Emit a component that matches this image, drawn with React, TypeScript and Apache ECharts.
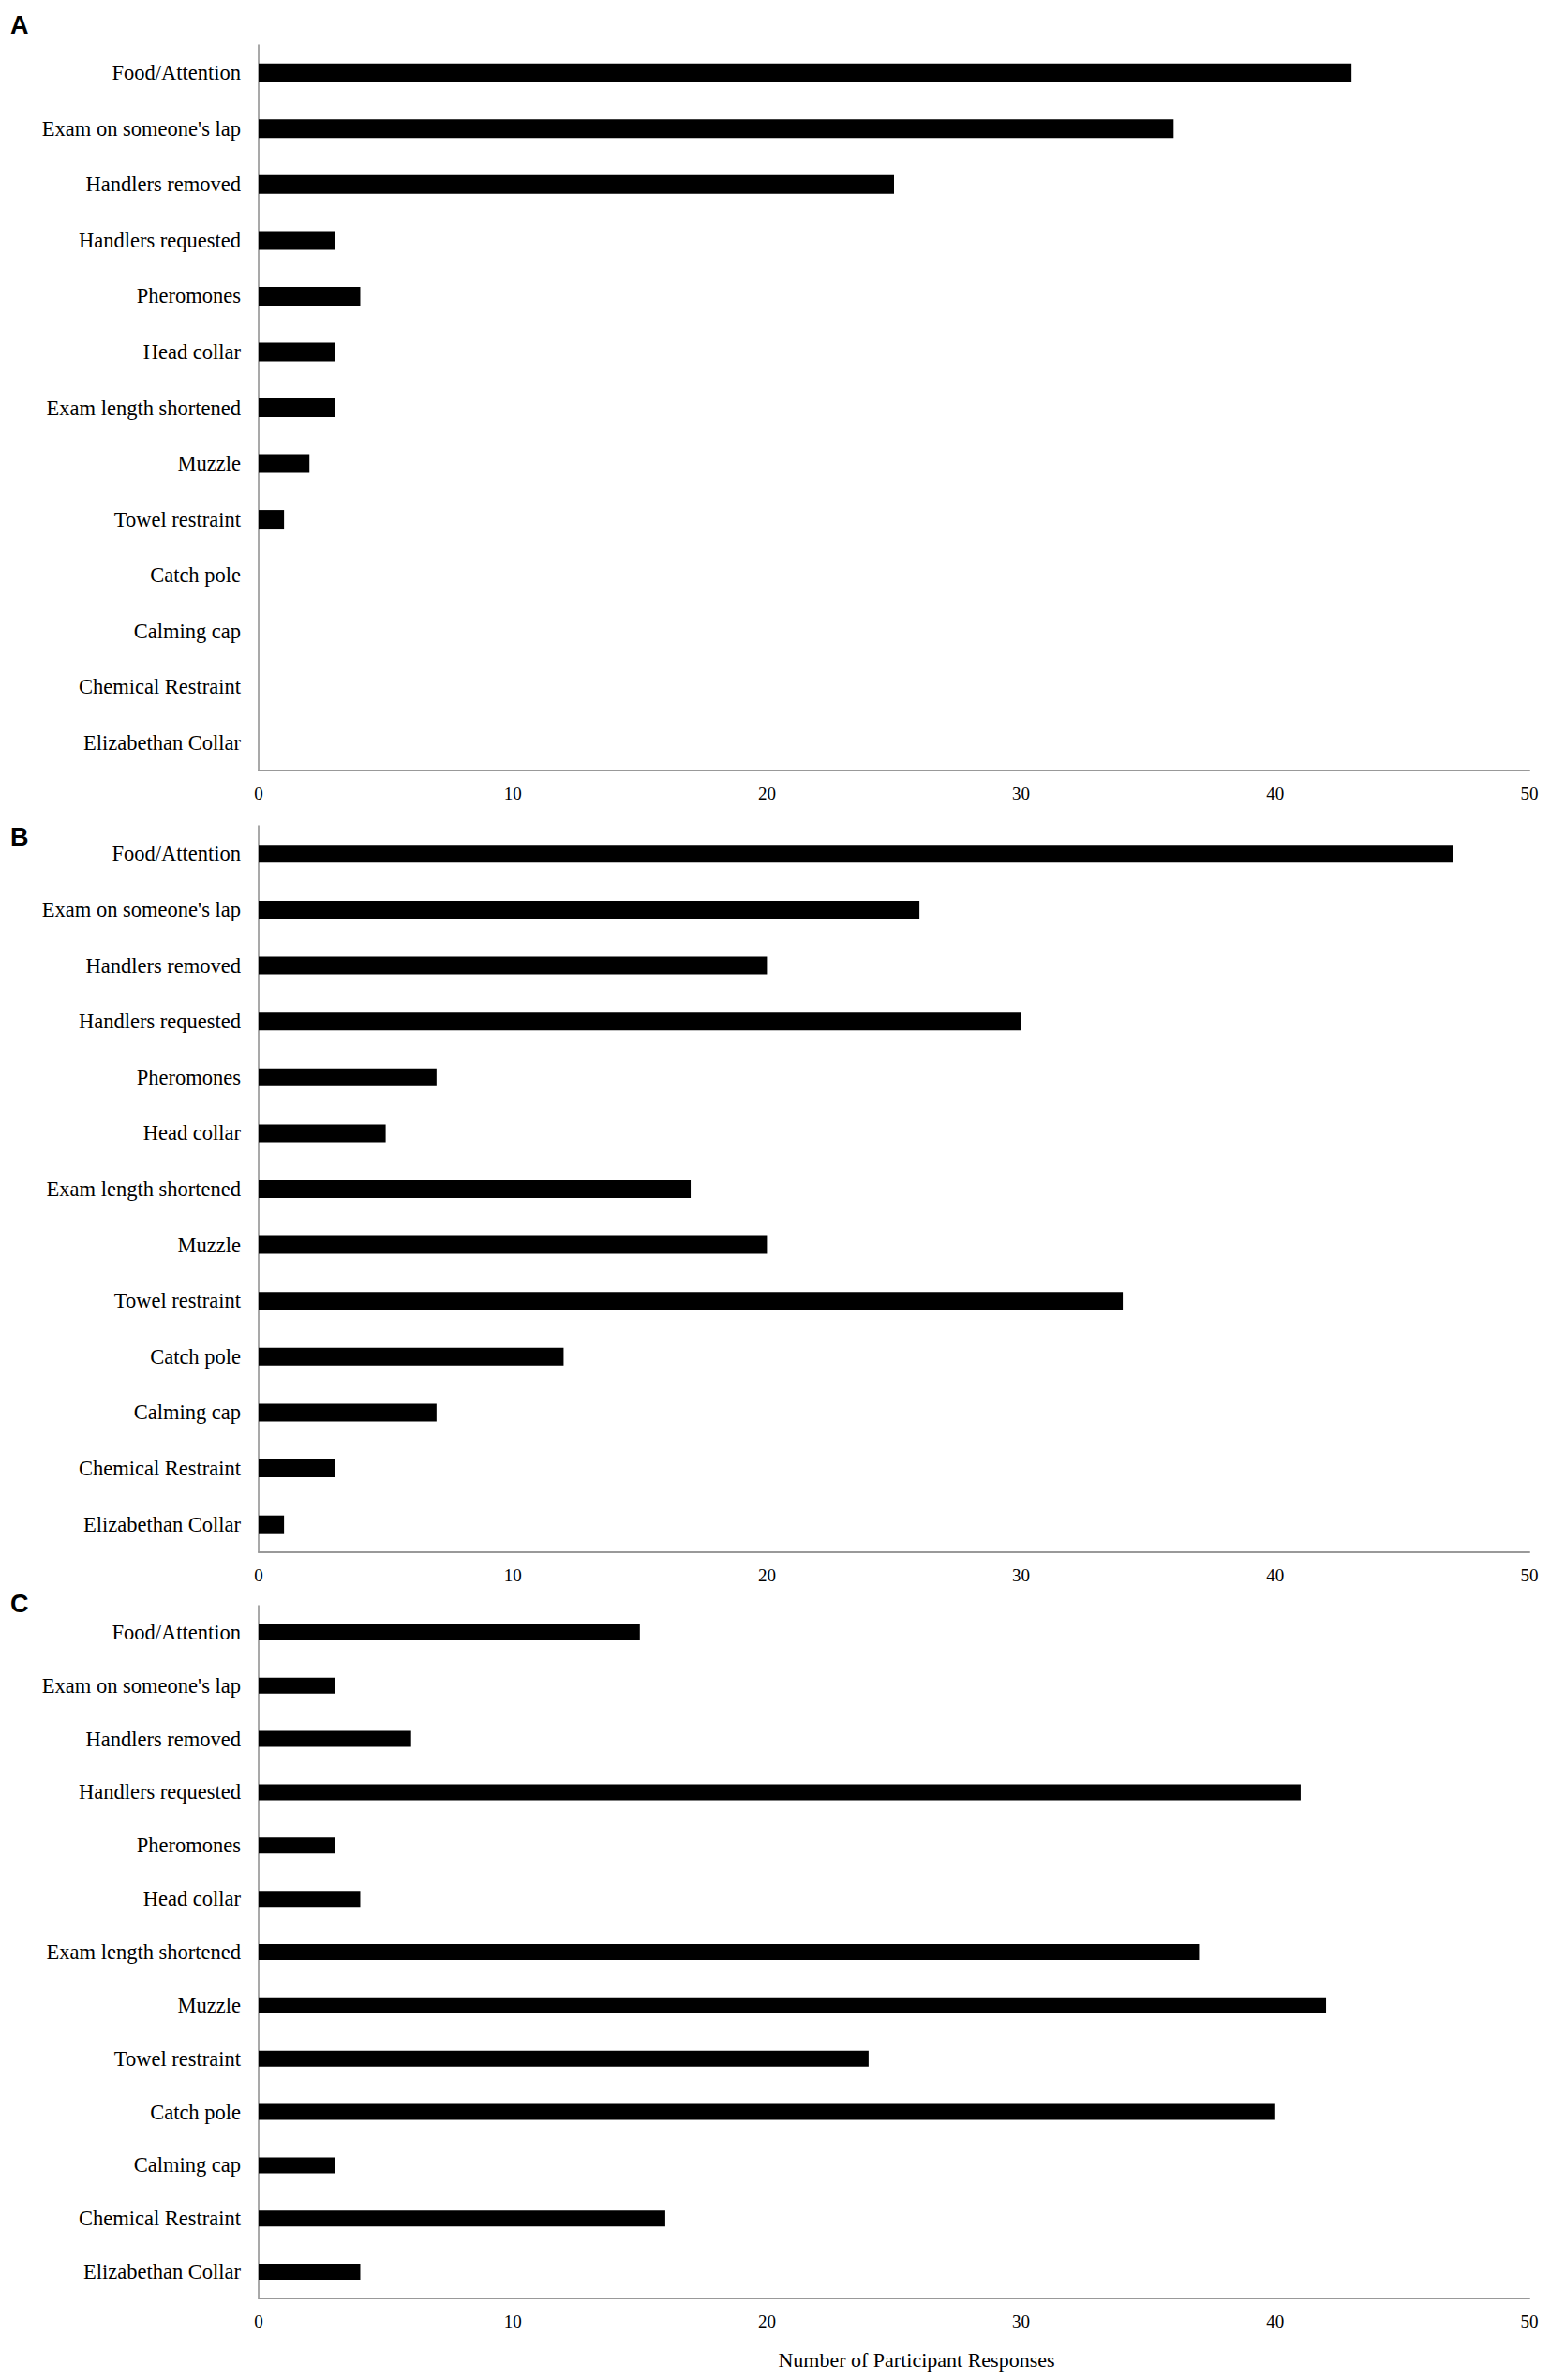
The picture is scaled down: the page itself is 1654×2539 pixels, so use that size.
import React, { useEffect, useRef } from "react";
import * as echarts from "echarts";

const categories = [
  "Food/Attention",
  "Exam on someone's lap",
  "Handlers removed",
  "Handlers requested",
  "Pheromones",
  "Head collar",
  "Exam length shortened",
  "Muzzle",
  "Towel restraint",
  "Catch pole",
  "Calming cap",
  "Chemical Restraint",
  "Elizabethan Collar",
];

const valuesA = [43, 36, 25, 3, 4, 3, 3, 2, 1, 0, 0, 0, 0];
const valuesB = [47, 26, 20, 30, 7, 5, 17, 20, 34, 12, 7, 3, 1];
const valuesC = [15, 3, 6, 41, 3, 4, 37, 42, 24, 40, 3, 16, 4];

const panelLetters = ["A", "B", "C"];
const xTicks = [0, 10, 20, 30, 40, 50];
const xTitle = "Number of Participant Responses";

const SERIF = '"Liberation Serif", "Times New Roman", serif';
const SANS = '"Liberation Sans", Arial, sans-serif';

export default function App() {
  const ref = useRef<HTMLDivElement>(null);

  useEffect(() => {
    document.body.style.margin = "0";
    if (!ref.current) return;
    const chart = echarts.init(ref.current, null, { renderer: "svg" });

    const panels = [
      { top: 48, height: 774, barWidth: 20, values: valuesA, letterY: 27 },
      { top: 881, height: 775, barWidth: 19, values: valuesB, letterY: 893 },
      { top: 1713, height: 739, barWidth: 17, values: valuesC, letterY: 1711 },
    ];

    const grids = panels.map((p) => ({
      left: 276,
      right: 22,
      top: p.top,
      height: p.height,
      containLabel: false,
    }));

    const xAxes = panels.map((_, i) => ({
      type: "value" as const,
      gridIndex: i,
      min: xTicks[0],
      max: xTicks[xTicks.length - 1],
      interval: 10,
      axisLine: { show: true, lineStyle: { color: "#999999", width: 2 } },
      axisTick: { show: false },
      splitLine: { show: false },
      axisLabel: {
        color: "#000",
        fontFamily: SERIF,
        fontSize: 19,
        margin: 15,
      },
    }));

    const yAxes = panels.map((_, i) => ({
      type: "category" as const,
      gridIndex: i,
      data: categories,
      inverse: true,
      axisLine: { show: true, lineStyle: { color: "#8c8c8c", width: 1.5 } },
      axisTick: { show: false },
      splitLine: { show: false },
      axisLabel: {
        color: "#000",
        fontFamily: SERIF,
        fontSize: 22.5,
        margin: 19,
      },
    }));

    const series = panels.map((p, i) => ({
      type: "bar" as const,
      xAxisIndex: i,
      yAxisIndex: i,
      data: p.values,
      barWidth: p.barWidth,
      itemStyle: { color: "#000000" },
      silent: true,
    }));

    const graphics: any[] = panels.map((p, i) => ({
      type: "text",
      left: 11,
      top: p.letterY - 14,
      style: {
        text: panelLetters[i],
        font: `bold 27px ${SANS}`,
        fill: "#000",
      },
    }));
    graphics.push({
      type: "text",
      x: 978,
      y: 2517,
      style: {
        text: xTitle,
        font: `22px ${SERIF}`,
        fill: "#000",
        align: "center",
        verticalAlign: "middle",
      },
    });

    chart.setOption({
      animation: false,
      backgroundColor: "#ffffff",
      grid: grids,
      xAxis: xAxes,
      yAxis: yAxes,
      series,
      graphic: graphics,
    });

    return () => chart.dispose();
  }, []);

  return <div ref={ref} style={{ width: 1654, height: 2539 }} />;
}
